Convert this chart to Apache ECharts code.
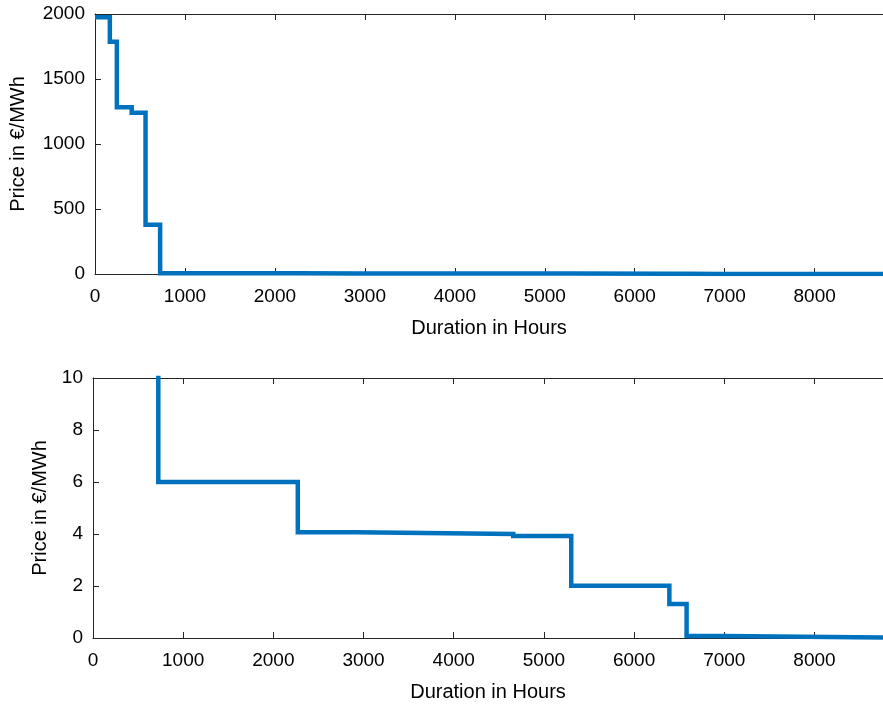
<!DOCTYPE html>
<html>
<head>
<meta charset="utf-8">
<script src="https://cdn.jsdelivr.net/npm/echarts@6/dist/echarts.min.js"></script>
<style>
	html, body { margin: 0; padding: 0; background: #fff; }
	#chart { width: 883px; height: 704px; }
</style>
</head>
<body>
<div id="chart"></div>
<script>
// start of each price block (hours) and its price (EUR/MWh), last entry closes the year
var durationHours = [0, 165, 243, 408, 562, 724, 2271, 2911, 4660, 5303, 6391, 6582, 6990, 8760]
var priceEur = [1975, 1786, 1282, 1241, 378, 6.0, 4.07, 4.0, 3.92, 2.01, 1.31, 0.08, 0.02, 0.02]

var topTicksY = { min: 0, max: 2000, interval: 500 }
var bottomTicksY = { min: 0, max: 10, interval: 2 }
var hoursAxis = { min: 0, max: 8760, interval: 1000 }

var FONT = 'Liberation Sans, Arial, Helvetica, sans-serif'
var lineColor = '#0072BD'
var axisColor = '#262626'

var curve = durationHours.map(function (h, i) {
	return [h, priceEur[i]]
})

var plainNumber = function (v) {
	return String(v)
}

var axisLineStyle = { show: true, onZero: false, lineStyle: { color: axisColor, width: 1 } }
var tickStyle = { show: true, inside: true, length: 6, lineStyle: { color: axisColor, width: 1 } }

var xAxisBottom = function (gridIndex) {
	return {
		type: 'value',
		gridIndex: gridIndex,
		position: 'bottom',
		min: hoursAxis.min,
		max: hoursAxis.max,
		interval: hoursAxis.interval,
		name: 'Duration in Hours',
		nameLocation: 'middle',
		nameGap: 44,
		nameTextStyle: { fontSize: 20, color: '#000', fontFamily: FONT },
		axisLine: axisLineStyle,
		axisTick: tickStyle,
		axisLabel: { fontSize: 19, color: '#000', fontFamily: FONT, margin: 13, showMaxLabel: false, formatter: plainNumber },
		splitLine: { show: false },
	}
}

var xAxisTop = function (gridIndex) {
	return {
		type: 'value',
		gridIndex: gridIndex,
		position: 'top',
		min: hoursAxis.min,
		max: hoursAxis.max,
		interval: hoursAxis.interval,
		axisLine: axisLineStyle,
		axisTick: tickStyle,
		axisLabel: { show: false },
		splitLine: { show: false },
	}
}

var yAxisLeft = function (gridIndex, ticks, gap) {
	return {
		type: 'value',
		gridIndex: gridIndex,
		position: 'left',
		min: ticks.min,
		max: ticks.max,
		interval: ticks.interval,
		name: 'Price in €/MWh',
		nameLocation: 'middle',
		nameGap: gap,
		nameTextStyle: { fontSize: 20, color: '#000', fontFamily: FONT },
		axisLine: axisLineStyle,
		axisTick: tickStyle,
		axisLabel: { fontSize: 19, color: '#000', fontFamily: FONT, margin: 10, formatter: plainNumber },
		splitLine: { show: false },
	}
}

var stepSeries = function (axisIndex) {
	return {
		type: 'line',
		step: 'end',
		xAxisIndex: axisIndex,
		yAxisIndex: axisIndex,
		data: curve,
		showSymbol: false,
		clip: true,
		lineStyle: { color: lineColor, width: 4.5, join: 'miter' },
		itemStyle: { color: lineColor },
	}
}

var chart = echarts.init(document.getElementById('chart'))
chart.setOption({
	animation: false,
	backgroundColor: '#fff',
	grid: [
		{ left: 93, right: -4, top: 14, height: 260 },
		{ left: 93, right: -4, top: 378, height: 260 },
	],
	xAxis: [xAxisBottom(0), xAxisBottom(1), xAxisTop(0), xAxisTop(1)],
	yAxis: [yAxisLeft(0, topTicksY, 67), yAxisLeft(1, bottomTicksY, 42)],
	series: [
		{ ...stepSeries(0), xAxisIndex: 0, yAxisIndex: 0 },
		{ ...stepSeries(1), xAxisIndex: 1, yAxisIndex: 1 },
	],
})
</script>
</body>
</html>
